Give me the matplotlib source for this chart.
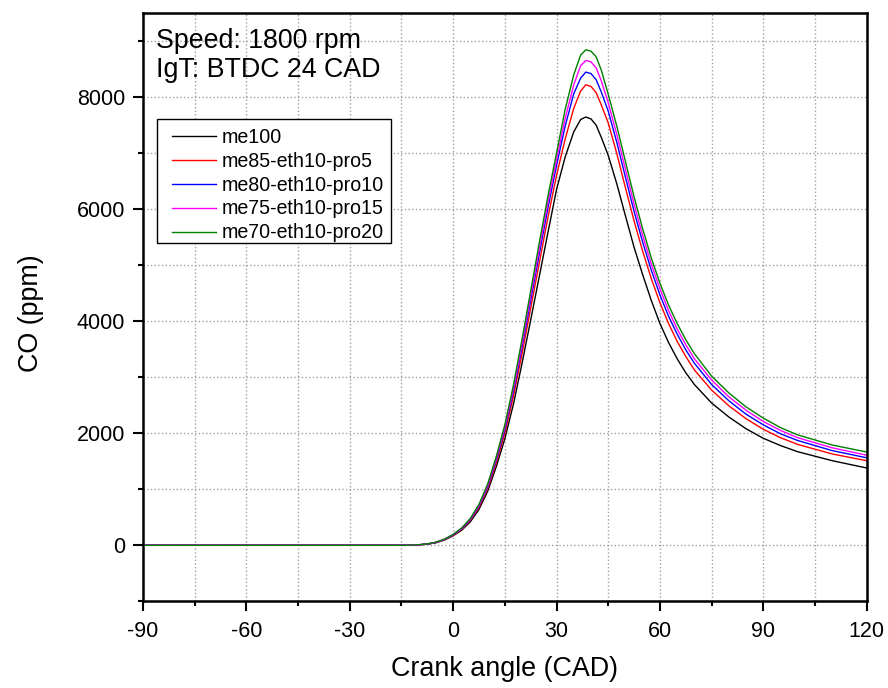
import matplotlib
matplotlib.use("Agg")
import matplotlib.pyplot as plt
from matplotlib.ticker import MultipleLocator
from matplotlib.patches import Rectangle

plt.rcParams["font.family"] = ["Liberation Sans", "DejaVu Sans"]
plt.rcParams["axes.unicode_minus"] = False

# crank angle (CAD)
crank = [-90, -60, -30, -15, -12.5, -10, -7.5, -5, -2.5, 0, 2.5, 5, 7.5, 10, 12.5, 15,
         17.5, 20, 22.5, 25, 27.5, 30, 32.5, 35, 37, 38.5, 40, 41.5, 43, 45, 47.5, 50,
         52.5, 55, 57.5, 60, 62.5, 65, 67.5, 70, 75, 80, 85, 90, 95, 100, 110, 120]

# CO (ppm) for each fuel blend
co_me100 = [0, 0, 0, 0, 2, 8, 20, 45, 95, 170, 270, 420, 640, 960, 1400, 1900,
            2520, 3250, 4020, 4800, 5580, 6350, 6930, 7380, 7600, 7645, 7610, 7500, 7280, 6960, 6450, 5880,
            5320, 4830, 4370, 3960, 3620, 3330, 3080, 2870, 2540, 2290, 2080, 1910, 1780, 1670, 1510, 1380]
co_me85 = [0, 0, 0, 0, 2, 8, 21, 48, 100, 178, 285, 445, 675, 1010, 1470, 2000,
           2660, 3420, 4230, 5040, 5850, 6600, 7250, 7800, 8110, 8220, 8190, 8080, 7860, 7540, 6990, 6380,
           5790, 5250, 4760, 4330, 3960, 3640, 3370, 3130, 2770, 2490, 2260, 2070, 1920, 1800, 1630, 1510]
co_me80 = [0, 0, 0, 0, 2, 9, 23, 51, 104, 186, 296, 460, 700, 1045, 1520, 2070,
           2750, 3540, 4370, 5200, 6020, 6780, 7480, 8060, 8340, 8446, 8420, 8310, 8090, 7750, 7190, 6570,
           5960, 5410, 4910, 4470, 4090, 3770, 3490, 3250, 2870, 2580, 2340, 2150, 1990, 1870, 1690, 1562]
co_me75 = [0, 0, 0, 0, 3, 9, 24, 53, 107, 190, 302, 470, 715, 1065, 1550, 2110,
           2800, 3600, 4450, 5290, 6120, 6880, 7620, 8220, 8560, 8654, 8630, 8520, 8290, 7900, 7330, 6710,
           6090, 5530, 5020, 4580, 4190, 3860, 3580, 3330, 2950, 2650, 2410, 2210, 2050, 1920, 1740, 1608]
co_me70 = [0, 0, 0, 0, 3, 10, 25, 55, 110, 195, 310, 480, 730, 1090, 1580, 2150,
           2860, 3680, 4540, 5400, 6230, 7000, 7780, 8400, 8750, 8845, 8820, 8720, 8480, 8050, 7480, 6850,
           6220, 5650, 5130, 4680, 4290, 3960, 3670, 3420, 3020, 2720, 2470, 2270, 2100, 1970, 1790, 1665]

series = [
    ("me100", co_me100, "black"),
    ("me85-eth10-pro5", co_me85, "#FF0000"),
    ("me80-eth10-pro10", co_me80, "#0000FF"),
    ("me75-eth10-pro15", co_me75, "#FF00FF"),
    ("me70-eth10-pro20", co_me70, "#008000"),
]

fig = plt.figure(figsize=(8.88, 6.88), dpi=100)
ax = fig.add_axes([0.161, 0.126, 0.815, 0.855])

for label, values, color in series:
    ax.plot(crank, values, color=color, lw=1.0, label=label)

ax.set_xlim(-90, 120)
ax.set_ylim(-1000, 9500)
ax.xaxis.set_major_locator(MultipleLocator(30))
ax.xaxis.set_minor_locator(MultipleLocator(15))
ax.yaxis.set_major_locator(MultipleLocator(2000))
ax.yaxis.set_minor_locator(MultipleLocator(1000))

ax.grid(True, which="both", color="#a0a0a0", linestyle=":", linewidth=1.0)
ax.set_axisbelow(True)

for sp in ax.spines.values():
    sp.set_linewidth(1.8)
ax.tick_params(which="major", direction="out", length=7, width=1.5,
               labelsize=15.5, top=False, right=False)
ax.tick_params(axis="x", which="major", pad=7)
ax.tick_params(axis="y", which="major", pad=6)
ax.tick_params(which="minor", direction="out", length=3.6, width=1.5,
               top=False, right=False)

ax.set_xlabel("Crank angle (CAD)", fontsize=19.4)
ax.set_ylabel("CO (ppm)", fontsize=19.4)
ax.xaxis.set_label_coords(0.5, -0.093)
ax.yaxis.set_label_coords(-0.137, 0.49)

ax.text(0.018, 0.975, "Speed: 1800 rpm\nIgT: BTDC 24 CAD", transform=ax.transAxes,
        fontsize=19.3, va="top", ha="left", linespacing=1.15)

# legend box drawn by hand so the padding matches
ax.add_patch(Rectangle((0.0198, 0.6094), 0.3225, 0.2109, transform=ax.transAxes,
                       facecolor="white", edgecolor="black", lw=1.0, zorder=4))
leg = ax.legend(loc="upper left", bbox_to_anchor=(0.0397, 0.805), fontsize=14.1,
                frameon=False, handlelength=2.25, handletextpad=0.3,
                labelspacing=0.25, borderpad=0, borderaxespad=0)
leg.set_zorder(5)

fig.savefig("out.png", dpi=100)
